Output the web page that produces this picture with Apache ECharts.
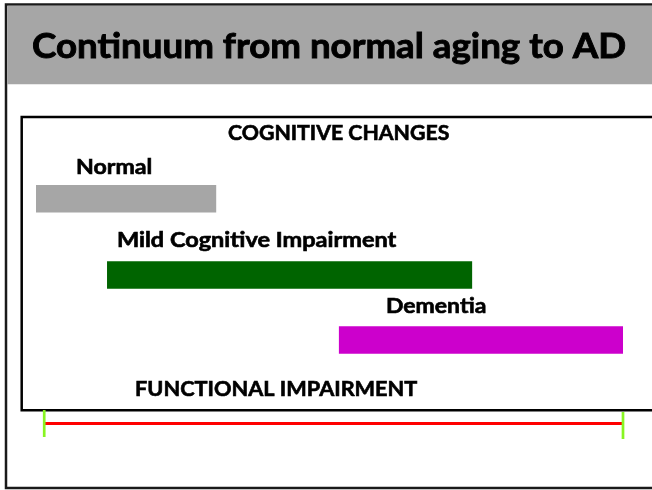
<!DOCTYPE html>
<html>
<head>
<meta charset="utf-8">
<script src="https://cdn.jsdelivr.net/npm/echarts@6/dist/echarts.min.js"></script>
<style>
html,body{margin:0;padding:0;background:#fff;}
#chart{width:652px;height:490px;}
</style>
</head>
<body>
<div id="chart"></div>
<script>
// ---- data ----
var categories = ['Normal', 'Mild Cognitive Impairment', 'Dementia'];
var startValues = [0, 12.1, 51.6];
var endValues = [30.7, 74.3, 100];
var functionalRange = [1.4, 100];
var titleText = 'Continuum from normal aging to AD';
var topHeading = 'COGNITIVE CHANGES';
var bottomHeading = 'FUNCTIONAL IMPAIRMENT';

// ---- styles / layout ----
var barColors = ['#a6a6a6', '#006400', '#cc00cc'];
var rowCenters = [198.8, 275, 340];
var barHeight = 27.5;
var FONT = 'Lato, "Open Sans", sans-serif';

var ctx = document.createElement('canvas').getContext('2d');
function fitText(text, left, midY, size, targetW, thick) {
  ctx.font = 'bold ' + size + 'px ' + FONT;
  var w = ctx.measureText(text).width + thick;
  return {
    type: 'text', x: left, y: midY, scaleX: targetW / w, z: 10,
    style: {
      text: text, fill: '#000', fontSize: size, fontWeight: 'bold',
      fontFamily: FONT, textAlign: 'left', textVerticalAlign: 'middle',
      stroke: '#000', lineWidth: thick
    }
  };
}

// label layout: [left, capMidY, width]
var labelLayout = [[76, 168, 77], [117, 240.5, 280], [386, 306.5, 101]];

var graphics = [
  { type: 'rect', z: 0, shape: { x: 6, y: 4.5, width: 700, height: 483.5 },
    style: { fill: '#fff', stroke: '#1a1a1a', lineWidth: 2.5 } },
  { type: 'rect', z: 1, shape: { x: 7.25, y: 5.75, width: 700, height: 78.5 },
    style: { fill: '#a6a6a6' } },
  { type: 'rect', z: 1, shape: { x: 21.7, y: 117, width: 700, height: 293.3 },
    style: { fill: 'none', stroke: '#000', lineWidth: 2.5 } },
  fitText(titleText, 32, 46.5, 35, 595, 0.9),
  fitText(topHeading, 228, 133.5, 20, 222, 0.6),
  fitText(bottomHeading, 135, 390, 20, 283, 0.6)
];
categories.forEach(function (c, i) {
  var l = labelLayout[i];
  graphics.push(fitText(c, l[0], l[1], 20, l[2], 0.6));
});

var barData = categories.map(function (c, i) {
  return [startValues[i], endValues[i], i];
});

var chart = echarts.init(document.getElementById('chart'), null, { renderer: 'canvas' });
chart.setOption({
  animation: false,
  backgroundColor: '#fff',
  grid: { left: 36, right: 29, top: 0, bottom: 0 },
  xAxis: { type: 'value', min: 0, max: 100, show: false },
  yAxis: { type: 'value', min: 0, max: 490, inverse: true, show: false },
  graphic: graphics,
  series: [
    {
      type: 'custom',
      z: 5,
      data: barData,
      renderItem: function (params, api) {
        var i = api.value(2);
        var a = api.coord([api.value(0), rowCenters[i]]);
        var b = api.coord([api.value(1), rowCenters[i]]);
        return {
          type: 'rect',
          shape: { x: a[0], y: a[1] - barHeight / 2, width: b[0] - a[0], height: barHeight },
          style: { fill: barColors[i] }
        };
      }
    },
    {
      type: 'custom',
      z: 6,
      data: [functionalRange],
      renderItem: function (params, api) {
        var y = 423.5;
        var a = api.coord([api.value(0), y]);
        var b = api.coord([api.value(1), y]);
        return {
          type: 'group',
          children: [
            { type: 'line', shape: { x1: a[0], y1: y, x2: b[0], y2: y },
              style: { stroke: '#ff0000', lineWidth: 3 } },
            { type: 'line', shape: { x1: a[0], y1: 410, x2: a[0], y2: 437 },
              style: { stroke: '#88f522', lineWidth: 2.7 } },
            { type: 'line', shape: { x1: b[0], y1: 412, x2: b[0], y2: 439 },
              style: { stroke: '#88f522', lineWidth: 2.7 } }
          ]
        };
      }
    }
  ]
});
</script>
</body>
</html>
